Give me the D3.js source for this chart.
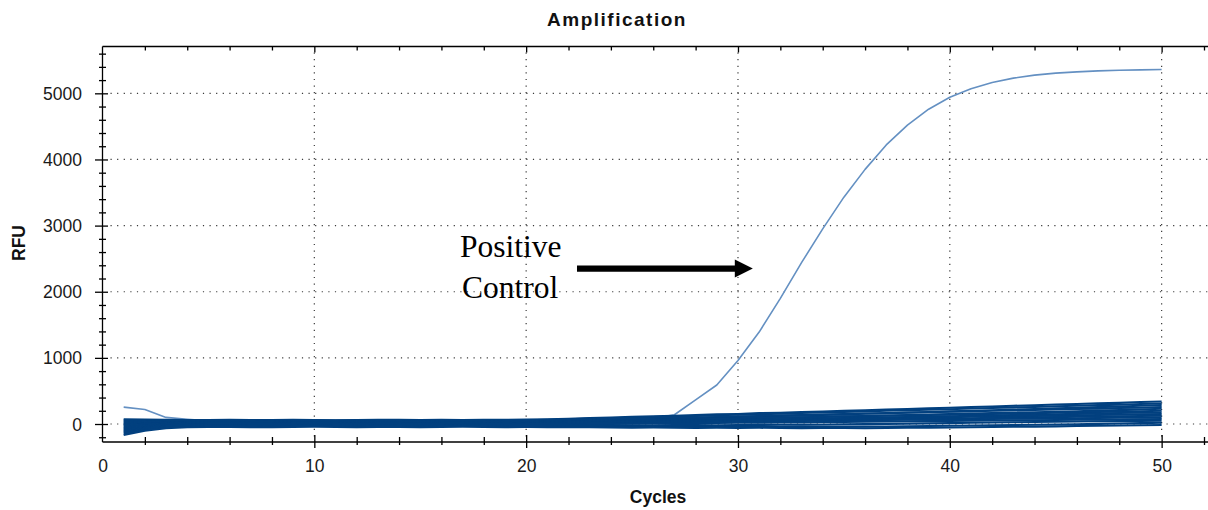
<!DOCTYPE html>
<html>
<head>
<meta charset="utf-8">
<script src="https://cdn.jsdelivr.net/npm/d3@7"></script>
<style>
  html, body { margin: 0; padding: 0; background: #fff; }
  svg { display: block; }
</style>
</head>
<body>
<svg id="chart" width="1208" height="510"></svg>
<script>
// Amplification curves: relative fluorescence (RFU) per PCR cycle.
const cycles = [1,2,3,4,5,6,7,8,9,10,11,12,13,14,15,16,17,18,19,20,21,22,23,24,25,
                26,27,28,29,30,31,32,33,34,35,36,37,38,39,40,41,42,43,44,45,46,47,48,49,50];

const positiveControl = [255,220,100,72,50,45,42,44,40,43,41,44,42,45,43,46,44,47,48,50,52,55,58,62,70,
                         85,140,365,590,960,1390,1900,2440,2950,3430,3850,4220,4520,4760,4940,
                         5070,5165,5230,5275,5305,5325,5340,5348,5355,5360];

const well01 = [72,67,63,61,60, 62,59,61,63,60,58,61,64,62,60,63,61,65,63,66,
                70,78,89,96,108,115,126,134,145,152,164,171,182,190,201,208,220,227,238,246,257,264,276,283,294,302,313,320,332,340];
const well02 = [55,55,55,55,55, 53,56,54,57,55,52,55,58,54,56,53,57,55,58,56,
                64,71,81,88,98,105,115,122,132,139,149,156,166,173,183,190,200,207,217,224,234,241,251,258,268,275,285,292,302,310];
const well03 = [38,42,44,45,45, 47,44,46,43,45,48,44,46,49,45,47,44,48,50,52,55,58,62,66,70,
                77,84,91,98,106,114,122,130,138,146,155,164,173,182,191,200,209,218,227,236,245,255,265,275,285];
const well04 = [20,30,36,39,40, 42,38,41,39,43,40,37,41,44,40,38,42,41,43,45,
                51,60,65,74,79,88,93,102,107,116,121,130,135,144,149,158,163,172,177,186,191,200,205,214,219,228,233,242,247,255];
const well05 = [2,16,25,29,30, 28,31,33,29,27,30,32,28,31,34,30,27,31,33,30,
                35,40,45,50,55,61,67,73,79,85,91,97,103,109,115,122,129,136,143,150,157,164,171,178,186,194,202,210,220,230];
const well06 = [-16,5,17,23,25, 23,26,24,21,25,27,23,20,24,26,22,25,28,24,26,
                32,38,43,49,55,61,67,72,78,84,90,96,101,107,113,119,125,130,136,142,148,154,159,165,171,177,183,188,194,200];
const well07 = [-34,-6,9,17,20, 18,21,23,19,17,20,22,18,21,24,20,17,21,23,25,27,30,33,36,40,44,48,52,57,62,
                67,73,78,84,89,95,101,106,112,118,124,130,136,142,148,154,160,166,170,175];
const well08 = [-52,-20,-2,7,10, 12,8,11,14,9,7,10,13,11,8,12,9,11,14,12,
                17,21,26,30,35,40,44,49,53,58,63,67,72,76,81,86,90,95,99,104,109,113,118,122,127,132,136,141,145,150];
const well09 = [-70,-32,-10,2,5, 3,6,8,4,2,5,7,3,6,9,5,2,6,8,5,
                8,14,16,22,24,30,32,38,40,46,48,54,56,62,64,70,72,78,80,86,88,94,96,102,104,110,112,118,120,125];
const well10 = [-88,-44,-18,-6,0, -2,1,3,-1,-3,0,2,-2,1,4,0,-3,1,3,0,
                3,6,9,12,15,18,21,25,29,33,37,41,45,49,53,57,61,64,67,70,73,76,79,82,85,88,91,94,97,100];
const well11 = [-106,-58,-30,-15,-10, -8,-11,-13,-9,-7,-10,-12,-8,-11,-14,-10,-7,-11,-13,-10,
                -7,-4,-2,1,4,7,10,13,15,18,21,24,27,30,32,35,38,41,44,47,49,52,55,58,61,64,66,69,72,75];
const well12 = [-124,-70,-40,-25,-20, -22,-18,-21,-24,-19,-17,-20,-23,-21,-18,-22,-19,-21,-24,-22,
                -21,-20,-22,-19,-18,-20,-17,-16,-18,-15,-13,-12,-10,-8,-5,-2,2,6,10,14,18,22,26,30,34,38,41,44,47,50];
const well13 = [-145,-85,-50,-35,-30, -28,-32,-34,-29,-27,-30,-33,-28,-31,-35,-30,-27,-31,-33,-30,
                -32,-35,-33,-36,-38,-35,-37,-40,-38,-41,-39,-42,-40,-38,-41,-39,-37,-34,-30,-27,-23,-19,-15,-11,-7,-3,2,8,14,20];
const well14 = [-165,-100,-65,-50,-45, -43,-47,-49,-44,-42,-45,-48,-43,-46,-50,-45,-42,-46,-48,-45,
                -47,-50,-48,-52,-55,-53,-56,-58,-55,-59,-57,-60,-62,-58,-61,-63,-60,-57,-55,-52,-49,-46,-42,-39,-35,-31,-27,-23,-19,-15];

const sampleWells = [well01, well02, well03, well04, well05, well06, well07,
                     well08, well09, well10, well11, well12, well13, well14];

// Axis ticks
const cycleLabels = [0, 10, 20, 30, 40, 50];
const cycleMinor = [2,4,6,8,10,12,14,16,18,20,22,24,26,28,30,32,34,36,38,40,42,44,46,48,50,52];
const rfuLabels = [0, 1000, 2000, 3000, 4000, 5000];
const rfuMinor = [-200,0,200,400,600,800,1000,1200,1400,1600,1800,2000,2200,2400,2600,2800,
                  3000,3200,3400,3600,3800,4000,4200,4400,4600,4800,5000,5200,5400,5600];

const svg = d3.select("#chart");
const sans = "'Liberation Sans', Arial, Helvetica, sans-serif";

const x = d3.scaleLinear().domain([0, 52]).range([102.5, 1204]);
const y = d3.scaleLinear().domain([-272, 5708]).range([442, 46.5]);

// dotted grid
const grid = svg.append("g")
  .attr("stroke", "#3a3a3a").attr("stroke-width", 1.2).attr("stroke-dasharray", "1.2,5.4");
grid.selectAll("line.h").data(rfuLabels).join("line").attr("class", "h")
  .attr("x1", x(0) + 8).attr("x2", 1208)
  .attr("y1", d => y(d)).attr("y2", d => y(d));
grid.selectAll("line.v").data(cycleLabels.filter(d => d > 0)).join("line").attr("class", "v")
  .attr("x1", d => x(d)).attr("x2", d => x(d))
  .attr("y1", y.range()[1] + 6).attr("y2", y.range()[0]);

// curves
const line = d3.line().x((d, i) => x(cycles[i])).y(d => y(d));

svg.append("path").datum(positiveControl)
  .attr("fill", "none").attr("stroke", "#6490c2").attr("stroke-width", 1.6)
  .attr("stroke-linejoin", "round").attr("d", line);

svg.append("g").selectAll("path").data(sampleWells).join("path")
  .attr("fill", "none").attr("stroke", "#02407f").attr("stroke-width", 2.1)
  .attr("stroke-linejoin", "round").attr("d", line);

// frame lines
const frame = svg.append("g").attr("stroke", "#000").attr("stroke-width", 1.3);
frame.append("line").attr("x1", x(0)).attr("x2", x(0)).attr("y1", y.range()[1]).attr("y2", y.range()[0]);
frame.append("line").attr("x1", x(0)).attr("x2", 1208).attr("y1", y.range()[0]).attr("y2", y.range()[0]);
frame.append("line").attr("x1", x(0)).attr("x2", 1208).attr("y1", y.range()[1]).attr("y2", y.range()[1]);

// left axis
const gy = svg.append("g").attr("transform", `translate(${x(0)},0)`)
  .call(d3.axisLeft(y).tickValues(rfuMinor).tickFormat(d => rfuLabels.includes(d) ? d : ""));
gy.select(".domain").remove();
gy.selectAll(".tick line")
  .attr("x1", d => rfuLabels.includes(d) ? 5.5 : 3.5)
  .attr("x2", d => rfuLabels.includes(d) ? -7.5 : -3.5)
  .attr("stroke", "#000").attr("stroke-width", 1.3);
gy.selectAll(".tick text").attr("x", -20.5).attr("dy", "0.35em")
  .attr("font-family", sans).attr("font-size", "17.5px").attr("fill", "#1a1a1a");

// bottom axis
const gx = svg.append("g").attr("transform", `translate(0,${y.range()[0]})`)
  .call(d3.axisBottom(x).tickValues([0].concat(cycleMinor)).tickFormat(d => cycleLabels.includes(d) ? d : ""));
gx.select(".domain").remove();
gx.selectAll(".tick line")
  .attr("y1", d => d === 0 ? 0 : (d % 10 === 0 ? -7 : -5))
  .attr("y2", d => d === 0 ? 0 : (d % 10 === 0 ? 6 : 3))
  .attr("stroke", "#000").attr("stroke-width", 1.3);
gx.selectAll(".tick text").attr("y", 30).attr("dy", null)
  .attr("font-family", sans).attr("font-size", "17.5px").attr("fill", "#1a1a1a");

// top axis (ticks only)
const gt = svg.append("g").attr("transform", `translate(0,${y.range()[1]})`)
  .call(d3.axisTop(x).tickValues(cycleMinor).tickFormat(""));
gt.select(".domain").remove();
gt.selectAll(".tick line")
  .attr("y1", 0).attr("y2", d => d % 10 === 0 ? 6 : 4)
  .attr("stroke", "#000").attr("stroke-width", 1.3);

// titles
svg.append("text").attr("x", 617).attr("y", 26).attr("text-anchor", "middle")
  .attr("font-family", sans).attr("font-weight", "bold").attr("font-size", "19px")
  .attr("letter-spacing", "1.5px").attr("fill", "#111").text("Amplification");
svg.append("text").attr("x", 658).attr("y", 503).attr("text-anchor", "middle")
  .attr("font-family", sans).attr("font-weight", "bold").attr("font-size", "17.5px")
  .attr("fill", "#111").text("Cycles");
svg.append("text").attr("transform", "translate(25,243) rotate(-90)").attr("text-anchor", "middle")
  .attr("font-family", sans).attr("font-weight", "bold").attr("font-size", "17.5px")
  .attr("fill", "#111").text("RFU");

// positive control callout
const serif = "'Liberation Serif', 'Times New Roman', Times, serif";
const callout = svg.append("g").attr("font-family", serif).attr("font-size", "31.5px").attr("fill", "#000");
callout.append("text").attr("x", 460).attr("y", 257).text("Positive");
callout.append("text").attr("x", 462).attr("y", 297.5).text("Control");

const arrowRfu = 2350, arrowStart = 22.4, arrowTip = 30.7;
const ay = y(arrowRfu), ax0 = x(arrowStart), ax1 = x(arrowTip);
svg.append("line").attr("x1", ax0).attr("x2", ax1 - 16).attr("y1", ay).attr("y2", ay)
  .attr("stroke", "#000").attr("stroke-width", 6.3);
svg.append("path")
  .attr("d", `M${ax1},${ay} L${ax1 - 18},${ay - 9} L${ax1 - 18},${ay + 9} Z`)
  .attr("fill", "#000");
</script>
</body>
</html>
